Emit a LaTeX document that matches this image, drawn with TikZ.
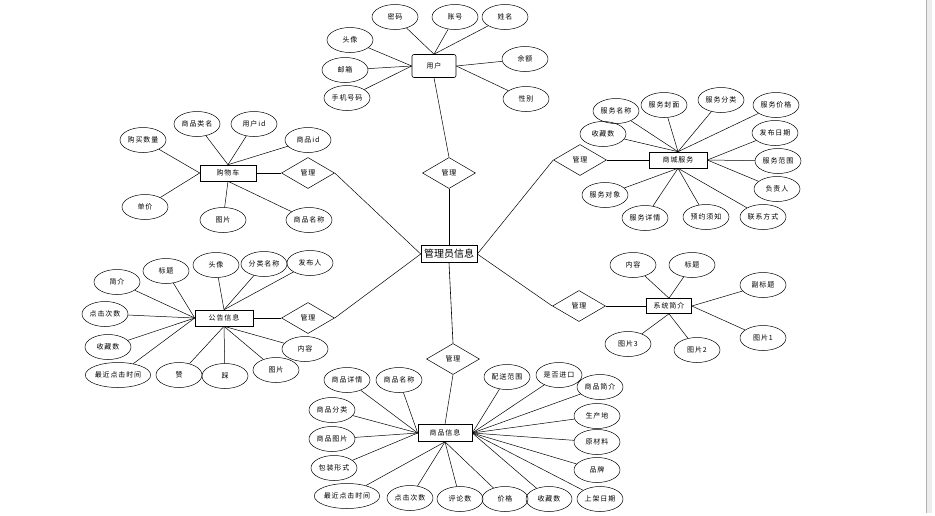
\documentclass[tikz,border=0pt]{standalone}
\usepackage{fontspec}
\setmainfont{Noto Sans CJK SC}
\newfontfamily\erfont[LetterSpace=12]{Noto Sans CJK SC}
\usetikzlibrary{shapes.geometric}

\tikzstyle{attr}=[draw=black,ellipse,inner xsep=0pt,inner ysep=1pt,minimum width=46pt,minimum height=25pt,font=\erfont\fontsize{7}{8}\selectfont]
\tikzstyle{entity}=[draw=black,semithick,rectangle,inner sep=1pt,minimum height=16pt,font=\erfont\fontsize{7}{8}\selectfont]
\tikzstyle{rel}=[draw=black,diamond,aspect=1.7,inner sep=0pt,minimum width=53pt,minimum height=31pt,font=\erfont\fontsize{7}{8}\selectfont]

\begin{document}
\begin{tikzpicture}[x=1pt,y=-1pt,line width=0.5pt]
	\useasboundingbox (0,0) rectangle (935,515);
	%page edge
	\fill[gray!15] (926,0) rectangle (932,513);
	\draw[gray!60] (926,0) -- (926,513);
	%entities
	\node[entity,font=\fontsize{10}{11}\selectfont,minimum width=56pt,minimum height=17pt] (admin) at (449,254) {管理员信息};
	\node[entity,rounded corners=2pt,minimum width=44pt,minimum height=23pt] (user) at (434,66) {用户};
	\node[entity,minimum width=56pt] (cart) at (228,173) {购物车};
	\node[entity,minimum width=58pt] (service) at (678,160) {商城服务};
	\node[entity,minimum width=58pt] (notice) at (224,318) {公告信息};
	\node[entity,minimum width=45pt,minimum height=15pt] (intro) at (669,306) {系统简介};
	\node[entity,minimum width=54pt,minimum height=17pt] (goods) at (445,433) {商品信息};
	%relations
	\node[rel] (m1) at (449,173) {管理};
	\node[rel] (m2) at (308,173) {管理};
	\node[rel] (m3) at (580,160) {管理};
	\node[rel] (m4) at (308,318) {管理};
	\node[rel] (m5) at (579,306) {管理};
	\node[rel] (m6) at (453,359) {管理};
	%links
	\draw (user.south) -- (m1.north);
	\draw[semithick] (m1.south) -- (admin.north);
	\draw[semithick] (cart.east) -- (m2.west);
	\draw (m2.east) -- (admin.west);
	\draw (m3.east) -- (service.west);
	\draw (m3.west) -- (admin.east);
	\draw[semithick] (notice.east) -- (m4.west);
	\draw (m4.east) -- (admin.west);
	\draw[semithick] (m5.east) -- (intro.west);
	\draw (m5.west) -- (admin.east);
	\draw[semithick] (admin.south) -- (m6.north);
	\draw (m6.south) -- (goods.north);
	%user
	\foreach \n/\t/\x/\y/\a in {pwd/密码/395/17/north, acct/账号/455/17/north, uname/姓名/505/17/north,
		uavatar/头像/350/40/west, umail/邮箱/345/70/west, uphone/手机号码/347/98/west,
		ubal/余额/525/59/east, usex/性别/526/99/east}
	{
		\node[attr] (\n) at (\x,\y) {\t};
		\draw (\n) -- (user.\a);
	}
	%cart
	\foreach \n/\t/\x/\y/\a in {cnum/购买数量/143/140/west, cspec/商品类名/197/124/north, cuid/用户id/254/124/north,
		cgid/商品id/308/140/north, cprice/单价/145/207/west, cpic/图片/223/220/south, cgname/商品名称/309/220/south}
	{
		\node[attr] (\n) at (\x,\y) {\t};
		\draw (\n) -- (cart.\a);
	}
	%service
	\foreach \n/\t/\x/\y/\a in {sname/服务名称/616/111/north, scover/服务封面/664/105/north, scat/服务分类/721/100/north,
		sprice/服务价格/776/105/north, sfav/收藏数/603/134/north, sdate/发布日期/775/133/east,
		srange/服务范围/778/161/east, sboss/负责人/777/189/east, scontact/联系方式/763/217/south,
		snote/预约须知/706/217/south, sdetail/服务详情/645/218/south, sobj/服务对象/605/195/south}
	{
		\node[attr] (\n) at (\x,\y) {\t};
		\draw (\n) -- (service.\a);
	}
	%notice
	\foreach \n/\t/\x/\y/\a in {nintro/简介/117/282/west, ntitle/标题/166/271/west, navatar/头像/216/265/north,
		ncat/分类名称/264/264/north, nauthor/发布人/310/263/north, nclick/点击次数/105/314/west,
		nfav/收藏数/108/347/west, nlast/最近点击时间/118/375/west, nup/赞/179/375/south,
		ndown/踩/225/376/south, npic/图片/276/370/south, ncontent/内容/305/349/south}
	{
		\node[attr] (\n) at (\x,\y) {\t};
		\draw (\n) -- (notice.\a);
	}
	%intro
	\foreach \n/\t/\x/\y/\a in {icontent/内容/633/265/north, ititle/标题/692/265/north, isub/副标题/763/285/east,
		ipic1/图片1/763/338/east, ipic2/图片2/697/350/south, ipic3/图片3/628/344/south}
	{
		\node[attr] (\n) at (\x,\y) {\t};
		\draw (\n) -- (intro.\a);
	}
	%goods
	\foreach \n/\t/\x/\y/\a in {gdetail/商品详情/347/380/west, gname/商品名称/399/380/west, gcat/商品分类/332/410/west,
		gpic/商品图片/332/439/west, gpack/包装形式/334/468/west, glast/最近点击时间/347/496/south,
		gclick/点击次数/410/498/south, gcomm/评论数/460/499/south, gprice/价格/505/499/south,
		gfav/收藏数/549/499/east, gship/配送范围/507/377/east, gimport/是否进口/559/375/east,
		gintro/商品简介/600/387/east, gorigin/生产地/597/416/east, gmat/原材料/597/442/east,
		gbrand/品牌/597/470/east, gdate/上架日期/600/499/east}
	{
		\node[attr] (\n) at (\x,\y) {\t};
		\draw (\n) -- (goods.\a);
	}
\end{tikzpicture}
\end{document}
